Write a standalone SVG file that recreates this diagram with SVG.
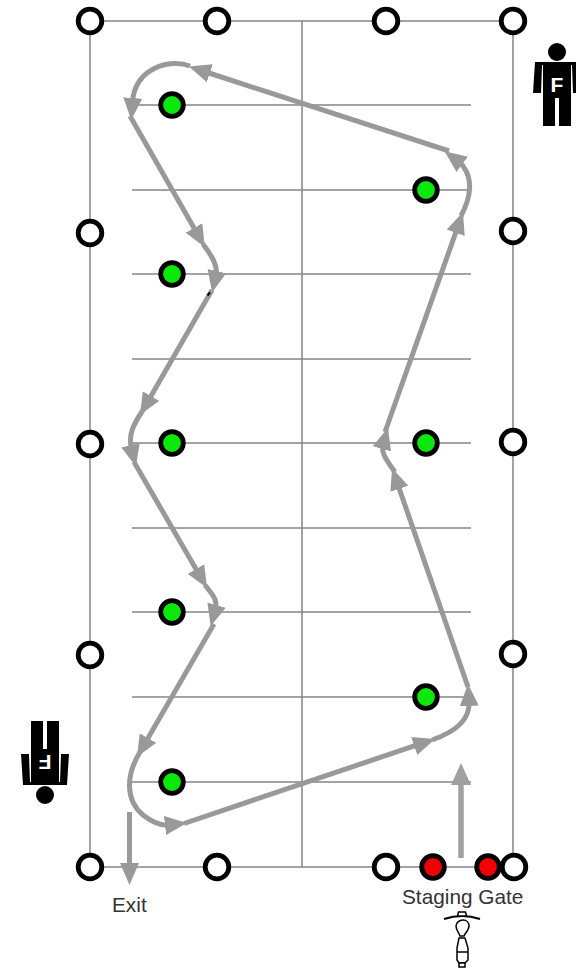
<svg xmlns="http://www.w3.org/2000/svg" width="576" height="968" viewBox="0 0 576 968">
<style>
.grid{stroke:#858585;stroke-width:1.5;fill:none}
.cone{fill:#fff;stroke:#000;stroke-width:4.800}
.green{fill:#0be80b;stroke:#000;stroke-width:4.800}
.red{fill:#f00000;stroke:#000;stroke-width:4.800}
.path{fill:none;stroke:#999;stroke-width:5}
.label{font-family:"Liberation Sans",Arial,sans-serif;font-size:20.800px;fill:#333}
.rider{fill:#fff;stroke:#000;stroke-width:1.5}
</style>
<defs>
<marker id="head" markerUnits="userSpaceOnUse" markerWidth="24" markerHeight="20" refX="4" refY="10" orient="auto" viewBox="0 0 24 20"><path d="M0 .5L22 10L0 19.500Z" fill="#999"/></marker>
<marker id="bighead" markerUnits="userSpaceOnUse" markerWidth="24" markerHeight="22" refX="2" refY="11" orient="auto" viewBox="0 0 24 22"><path d="M0 1L22 11L0 21Z" fill="#a0a0a0"/></marker>
<g id="person">
<circle cx="557" cy="52" r="9"/>
<path d="M535 62H579L581 93H573L572 65H571V126H559V98H555V126H543V65H542L541 93H533Z"/>
<text x="557" y="92" text-anchor="middle" font-family="'Liberation Sans',Arial,sans-serif" font-weight="700" font-size="21" fill="#fff">F</text>
</g>
</defs>
<rect width="576" height="968" fill="#fff"/>
<g id="grid" class="grid">
<path d="M90 21H513V867H90Z"/>
<path d="M302 21V867"/>
<path d="M132 105H471M132 190H471M132 274H471M132 359H471M132 443H471M132 528H471M132 612H471M132 697H471M132 782H471"/>
</g>
<g id="connectors" class="path">
<path marker-end="url(#head)" d="M449 151L206 72"/>
<path marker-end="url(#head)" d="M190 66C170 58 135 68 132.500 102"/>
<path marker-end="url(#head)" d="M130 116L196 231.500"/>
<path marker-end="url(#head)" d="M203 244C212 256 218 266 216 275"/>
<path marker-end="url(#head)" d="M212 290L149 399.500"/>
<path marker-end="url(#head)" d="M143 410C133 425 128 435 131.500 449"/>
<path marker-end="url(#head)" d="M134 462L198 572.500"/>
<path marker-end="url(#head)" d="M205 585C212 594 218 600 215.500 609"/>
<path marker-end="url(#head)" d="M214 624L146 741.500"/>
<path marker-end="url(#head)" d="M140 752C126 775 125 800 143 815C152 822 160 826 169 825"/>
<path marker-end="url(#head)" d="M184 823.500L418 744.700"/>
<path marker-end="url(#head)" d="M432 740C455 732 470 720 469 702"/>
<path marker-end="url(#head)" d="M468 687L398 485"/>
<path marker-end="url(#head)" d="M395 472C386 460 381 452 383 445"/>
<path marker-end="url(#head)" d="M385 432L457 229"/>
<path marker-end="url(#head)" d="M461 216C472 195 472 178 463 166C462 165 461 163.500 459 162"/>
<path marker-end="url(#head)" d="M129.500 812V867"/>
<path marker-end="url(#bighead)" stroke="#a0a0a0" stroke-width="5.500" d="M461 858V783"/>
<path d="M207.500 295.500L210 292.500" stroke="#000" stroke-width="2"/>
</g>
<g id="cone-1"><circle class="cone" cx="90" cy="21" r="11.800"/></g>
<g id="cone-2"><circle class="cone" cx="217" cy="21" r="11.800"/></g>
<g id="cone-3"><circle class="cone" cx="386" cy="21" r="11.800"/></g>
<g id="cone-4"><circle class="cone" cx="513" cy="21" r="11.800"/></g>
<g id="cone-5"><circle class="cone" cx="90" cy="233" r="11.800"/></g>
<g id="cone-6"><circle class="cone" cx="513" cy="231" r="11.800"/></g>
<g id="cone-7"><circle class="cone" cx="90" cy="444" r="11.800"/></g>
<g id="cone-8"><circle class="cone" cx="513" cy="442" r="11.800"/></g>
<g id="cone-9"><circle class="cone" cx="90" cy="655" r="11.800"/></g>
<g id="cone-10"><circle class="cone" cx="513" cy="654" r="11.800"/></g>
<g id="cone-11"><circle class="cone" cx="90" cy="867" r="11.800"/></g>
<g id="cone-12"><circle class="cone" cx="217" cy="867" r="11.800"/></g>
<g id="cone-13"><circle class="cone" cx="386" cy="867" r="11.800"/></g>
<g id="green-1"><circle class="green" cx="172" cy="105" r="11.300"/></g>
<g id="green-2"><circle class="green" cx="172" cy="274" r="11.300"/></g>
<g id="green-3"><circle class="green" cx="172" cy="443" r="11.300"/></g>
<g id="green-4"><circle class="green" cx="172" cy="612" r="11.300"/></g>
<g id="green-5"><circle class="green" cx="172" cy="782" r="11.300"/></g>
<g id="green-6"><circle class="green" cx="426" cy="190" r="11.300"/></g>
<g id="green-7"><circle class="green" cx="426" cy="443" r="11.300"/></g>
<g id="green-8"><circle class="green" cx="426" cy="697" r="11.300"/></g>
<g id="red-1"><circle class="red" cx="433" cy="867" r="11.300"/></g>
<g id="red-2"><circle class="red" cx="488" cy="867" r="11.300"/></g>
<g id="cone-14"><circle class="cone" cx="514" cy="867" r="11.800"/></g>
<g id="official-top"><use href="#person"/></g>
<g id="official-bottom"><use href="#person" transform="translate(602 847) rotate(180)"/></g>
<g id="exit-label"><text class="label" x="112" y="912">Exit</text></g>
<g id="gate-label"><text class="label" x="402" y="904">Staging Gate</text></g>
<g id="motorcycle">
<path d="M444 919Q462 913 480 919" fill="none" stroke="#000" stroke-width="2"/>
<path class="rider" d="M458.500 912H465.500L466.500 916H457.500Z"/>
<path class="rider" d="M463 920C467 920 469 923 469 926C469 930 465 933 464 936H460C459 933 456 930 456 926C456 923 459 920 463 920Z"/>
<path class="rider" d="M459 938H465L468 948V960L465 963H459L457 960V948Z"/>
<path class="rider" d="M457 952H468"/>
<path class="rider" d="M459 963H465V967H459Z"/>
</g>
</svg>
